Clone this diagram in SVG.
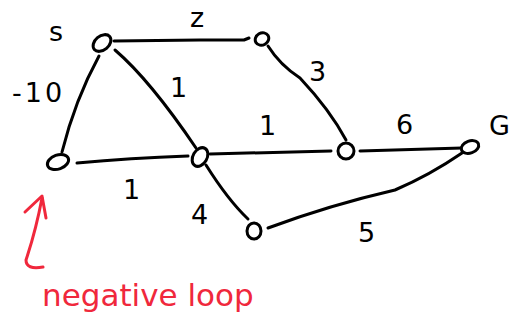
<svg xmlns="http://www.w3.org/2000/svg" width="514" height="333" viewBox="0 0 514 333">
<style>
.e{fill:none;stroke:#000;stroke-width:3;stroke-linecap:round;stroke-linejoin:round}
.n{fill:#fff;stroke:#000;stroke-width:3}
.t{font-family:"DejaVu Sans",sans-serif;font-size:27px;fill:#000}
.r{fill:none;stroke:#f0283c;stroke-width:3;stroke-linecap:round;stroke-linejoin:round}
.rt{font-family:"DejaVu Sans",sans-serif;font-size:31px;fill:#f0283c}
</style>
<rect width="514" height="333" fill="#fff"/>
<g id="connectors">
<path class="e" d="M114,41 L200,40 L244,40 L249,38"/>
<path class="e" d="M99,56 Q75,100 62,152"/>
<path class="e" d="M115,50 Q150,80 196,148"/>
<path class="e" d="M77,163 Q130,158 188,156"/>
<path class="e" d="M210,154 L331,151"/>
<path class="e" d="M268,46 Q280,65 300,78 Q330,110 346,140"/>
<path class="e" d="M360,151 L462,148"/>
<path class="e" d="M206,165 Q228,200 248,219"/>
<path class="e" d="M268,228 Q330,205 395,190 Q430,175 462,153"/>
</g>
<g id="n-s"><ellipse class="n" cx="102" cy="43" rx="10" ry="7" transform="rotate(-40 102 43)"/></g>
<g id="n-top"><ellipse class="n" cx="262" cy="39" rx="7" ry="6" transform="rotate(-30 262 39)"/></g>
<g id="n-left"><ellipse class="n" cx="58" cy="162" rx="11" ry="7" transform="rotate(-20 58 162)"/></g>
<g id="n-center"><ellipse class="n" cx="200" cy="157" rx="7" ry="10" transform="rotate(30 200 157)"/></g>
<g id="n-mid"><ellipse class="n" cx="346" cy="151" rx="8" ry="8"/></g>
<g id="n-g"><ellipse class="n" cx="470" cy="147" rx="9" ry="6" transform="rotate(-20 470 147)"/></g>
<g id="n-bottom"><ellipse class="n" cx="254" cy="231" rx="7" ry="8"/></g>
<g id="labels">
<text class="t" x="49" y="41">s</text>
<text class="t" x="190" y="27">z</text>
<text class="t" x="12" y="102" letter-spacing="3">-10</text>
<text class="t" x="170" y="97">1</text>
<text class="t" x="309" y="81">3</text>
<text class="t" x="259" y="135">1</text>
<text class="t" x="396" y="134">6</text>
<text class="t" x="489" y="135">G</text>
<text class="t" x="123" y="199">1</text>
<text class="t" x="191" y="224">4</text>
<text class="t" x="358" y="242">5</text>
</g>
<g id="note">
<path class="r" d="M42,198 Q36,230 26,260 Q26,270 43,267"/>
<path class="r" d="M25,212 L42,196 L46,218"/>
<text class="rt" x="42" y="306">negative loop</text>
</g>
</svg>
